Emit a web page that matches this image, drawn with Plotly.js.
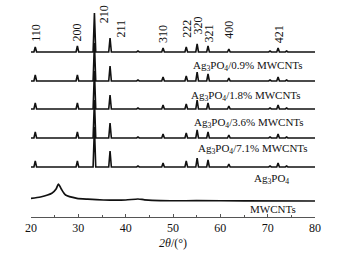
<!DOCTYPE html>
<html><head><meta charset="utf-8">
<script src="https://cdn.plot.ly/plotly-3.0.1.min.js"></script>
<style>html,body{margin:0;padding:0;background:#fff;}#chart{width:343px;height:257px;}</style>
</head><body><div id="chart"></div>
<script>
// Peak positions (2θ, degrees) and Miller indices
const peakPos = [20.9, 29.8, 33.4, 36.7, 42.6, 47.9, 52.8, 55.1, 57.4, 61.8, 70.5, 72.2, 74.0];
// Peak heights (a.u.) per sample
const h09 = [5, 6, 39, 14, 1, 4, 5, 8, 6, 3, 1, 4, 1];
const h18 = [6, 6, 38, 15, 1, 4, 5, 9, 7, 3, 1, 4, 1];
const h36 = [6, 6, 38, 14, 1, 4, 5, 9, 6, 3, 1, 4, 1];
const h71 = [6, 6, 38, 15, 1, 4, 5, 8, 6, 3, 1, 4, 1];
const hAg = [6, 6, 40, 16, 1, 4, 6, 9, 7, 3, 1, 4, 1];
// vertical offsets of stacked patterns (a.u.)
const offsets = [165, 136, 108, 79, 50];
const sampleNames = ["Ag<sub>3</sub>PO<sub>4</sub>/0.9% MWCNTs", "Ag<sub>3</sub>PO<sub>4</sub>/1.8% MWCNTs",
  "Ag<sub>3</sub>PO<sub>4</sub>/3.6% MWCNTs", "Ag<sub>3</sub>PO<sub>4</sub>/7.1% MWCNTs", "Ag<sub>3</sub>PO<sub>4</sub>"];
// MWCNTs pattern
const cntX = [20, 22, 24.4, 25.3, 25.8, 26.4, 27.3, 29.7, 32, 35.3, 40, 42.6, 44, 47.3, 55, 65, 80];
const cntY = [18.7, 20, 23.7, 28, 33, 28, 22, 18.7, 17.8, 17, 17, 18, 17.2, 16.3, 16.3, 16.2, 16];
// Peak labels
const hkl = ["110", "200", "210", "211", "310", "222", "320", "321", "400", "421"];
const hklX = [20.9, 29.8, 35.5, 39.0, 47.9, 52.8, 55.2, 57.4, 61.8, 72.3];
const hklY = [184.5, 185, 203, 188.5, 183, 188.5, 191, 183.5, 187, 182.4];

const heights = [h09, h18, h36, h71, hAg];
const hw = 0.28;
const traces = [];
heights.forEach((h, k) => {
  const xs = [20], ys = [offsets[k]];
  peakPos.forEach((p, i) => {
    xs.push(p - hw, p, p + hw);
    ys.push(offsets[k], offsets[k] + h[i], offsets[k]);
  });
  xs.push(80); ys.push(offsets[k]);
  traces.push({x: xs, y: ys, mode: 'lines', line: {color: '#111', width: 1.6}, hoverinfo: 'skip'});
});
traces.push({x: cntX, y: cntY, mode: 'lines', line: {color: '#111', width: 1.7, shape: 'spline', smoothing: 0.6}, hoverinfo: 'skip'});

const font = {family: 'Liberation Serif, Times New Roman, serif', color: '#111'};
const annotations = [];
hkl.forEach((t, i) => annotations.push({x: hklX[i], y: hklY[i], text: t, textangle: -90, showarrow: false,
  xanchor: 'center', yanchor: 'middle', font: Object.assign({size: 12}, font)}));
const nameX = [65.75, 65.5, 66.0, 67.0, 70.9];
const nameY = [151, 121, 94.5, 68, 38.5];
sampleNames.forEach((t, i) => annotations.push({x: nameX[i], y: nameY[i], text: t, showarrow: false,
  xanchor: 'center', yanchor: 'middle', font: Object.assign({size: 11}, font)}));
annotations.push({x: 71.1, y: 8, text: 'MWCNTs', showarrow: false, xanchor: 'center', yanchor: 'middle',
  font: Object.assign({size: 11}, font)});

const layout = {
  width: 343, height: 257,
  margin: {l: 31, r: 28, t: 5, b: 40, pad: 0},
  paper_bgcolor: '#fff', plot_bgcolor: '#fff',
  showlegend: false,
  font: Object.assign({size: 12}, font),
  xaxis: {range: [20, 80], showgrid: false, zeroline: false, showline: true, linecolor: '#555', linewidth: 1,
    ticks: 'inside', ticklen: 3, tickcolor: '#555', tickvals: [20, 30, 40, 50, 60, 70, 80],
    minor: {tickvals: [25, 35, 45, 55, 65, 75], ticks: 'inside', ticklen: 2, tickcolor: '#555'},
    tickfont: Object.assign({size: 12}, font),
    title: {text: '<i>2θ</i>/(°)', font: Object.assign({size: 12}, font), standoff: 4}},
  yaxis: {range: [0, 212], visible: false, showgrid: false, zeroline: false},
  annotations: annotations
};
Plotly.newPlot('chart', traces, layout, {staticPlot: true, displayModeBar: false});
</script></body></html>
